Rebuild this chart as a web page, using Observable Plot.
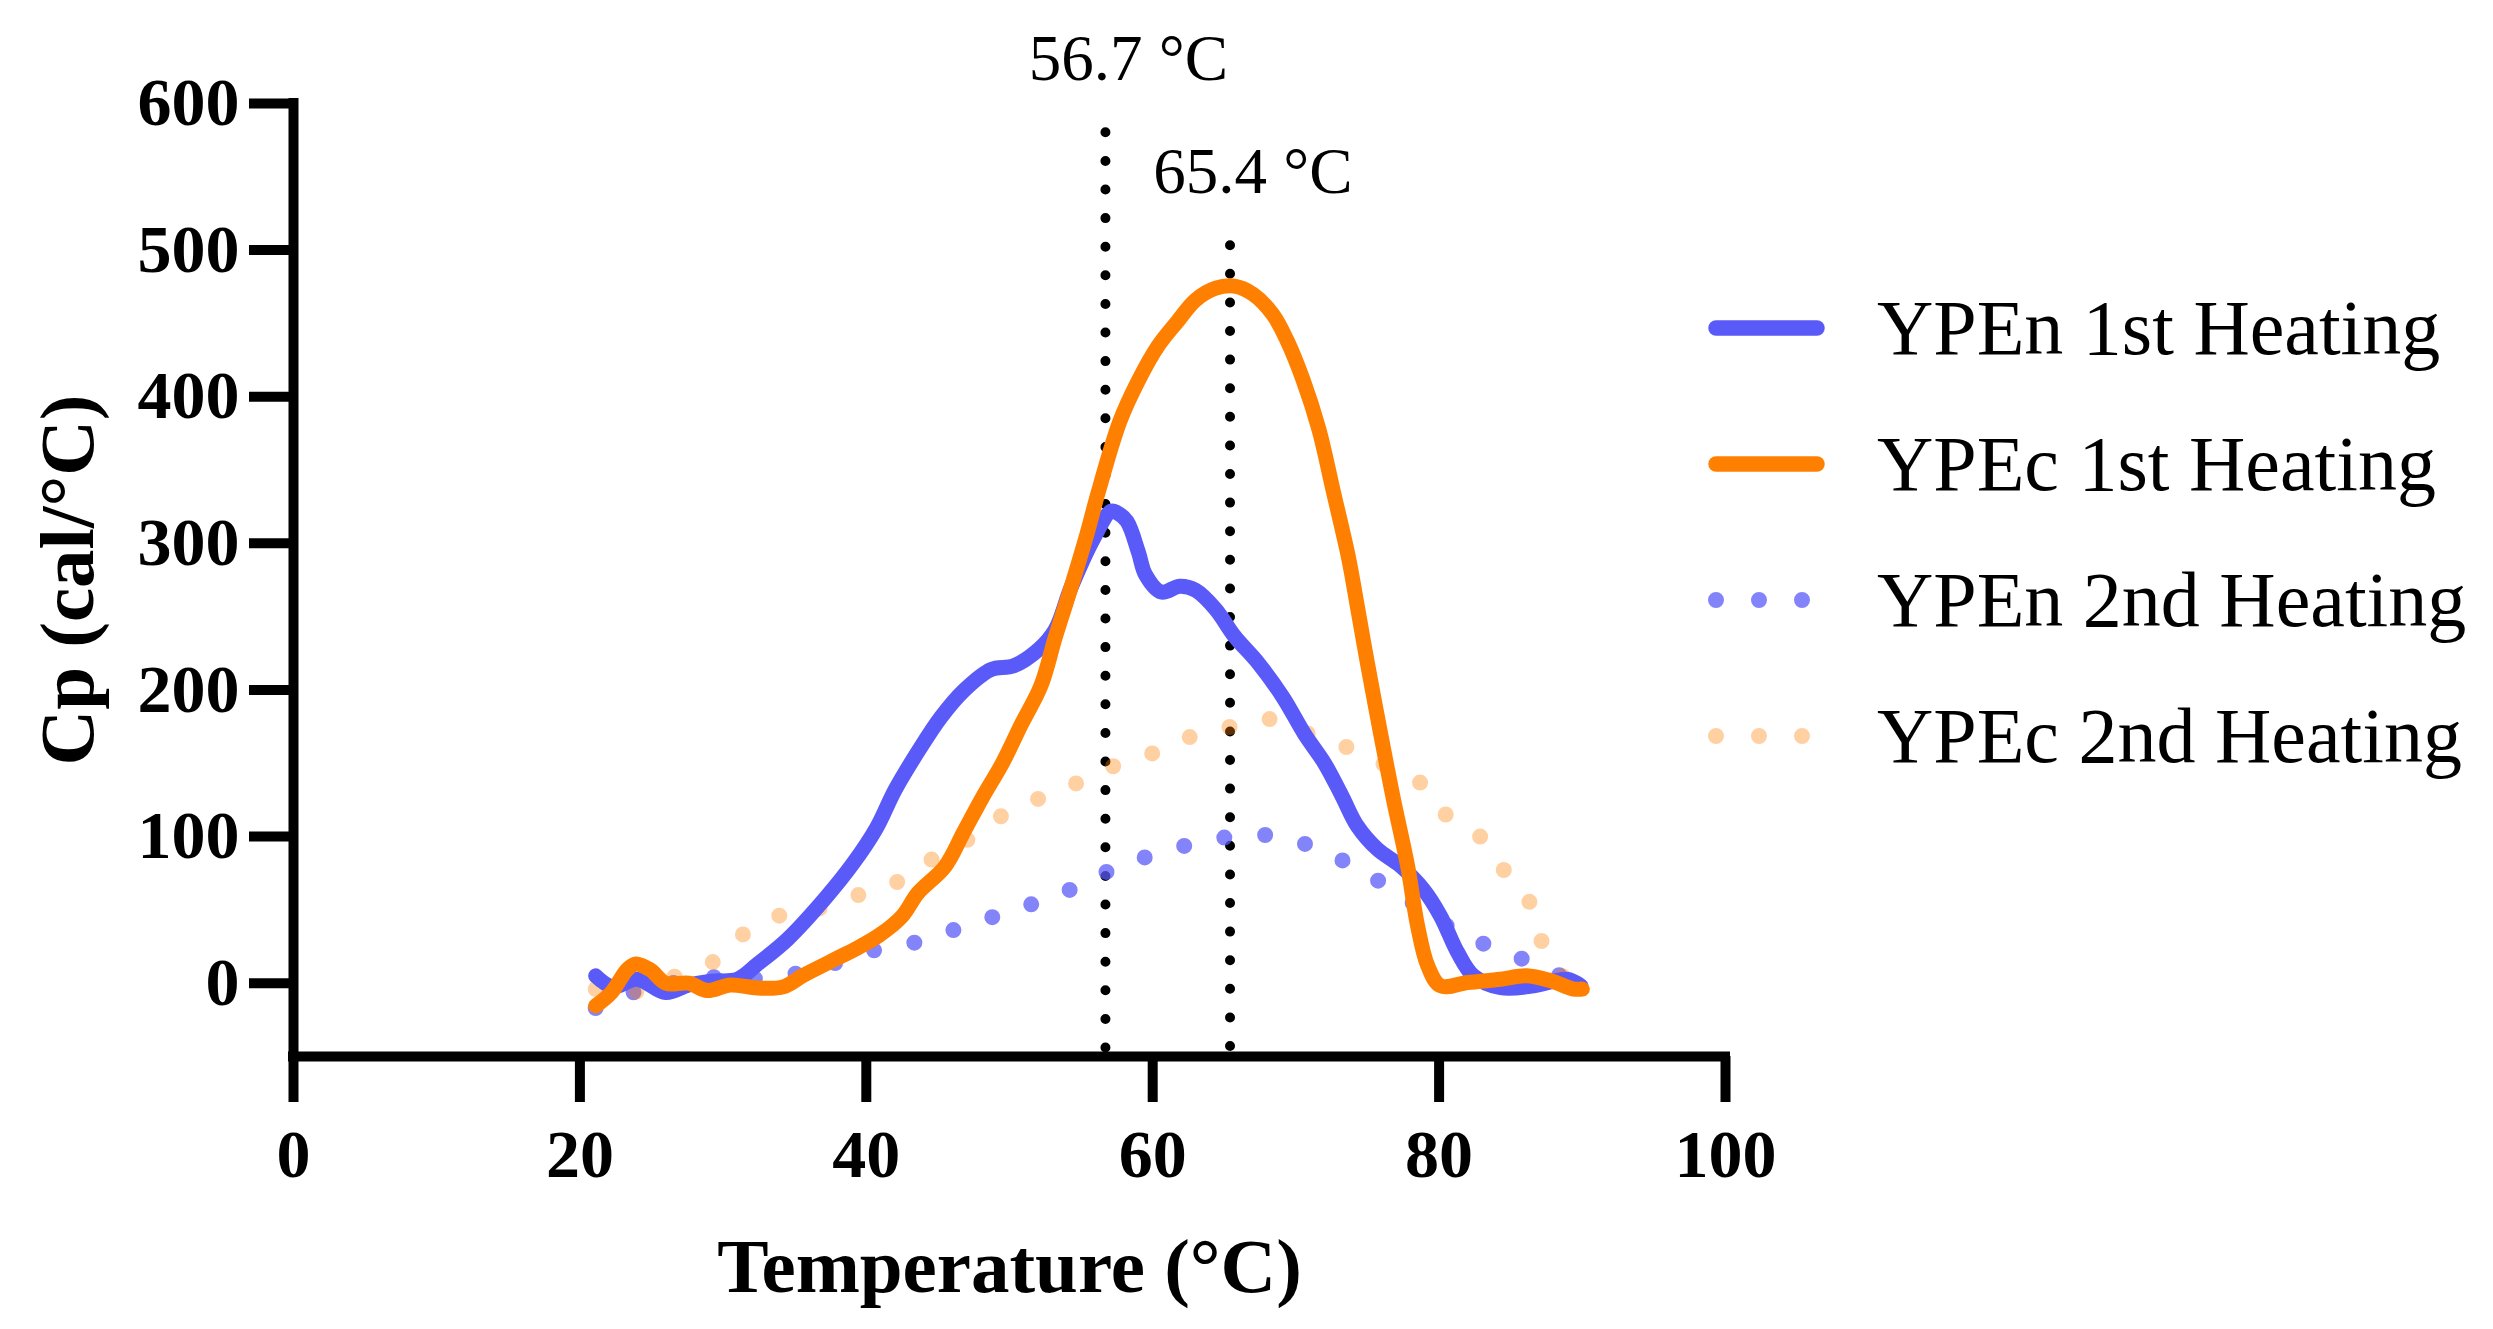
<!DOCTYPE html>
<html>
<head>
<meta charset="utf-8">
<script src="https://cdn.jsdelivr.net/npm/d3@7"></script>
<script src="https://cdn.jsdelivr.net/npm/@observablehq/plot@0.6"></script>
<style>
  html, body { margin: 0; padding: 0; background: #fff; overflow: hidden; }
  #wrap { position: relative; width: 2493px; height: 1329px; font-family: "Liberation Serif", "Times New Roman", serif; }
  #legend { position: absolute; left: 1708px; top: 260px; }
  .row { display: flex; align-items: center; height: 136px; }
  .row span { font-size: 78px; color: #000; white-space: nowrap; }
</style>
</head>
<body>
<div id="wrap">
  <div id="chart"></div>
  <div id="legend"></div>
</div>
<script>
// Ejes
const xDomain = [0, 100];
const yDomain = [-50, 600];
const xTicks = [0, 20, 40, 60, 80, 100];
const yTicks = [0, 100, 200, 300, 400, 500, 600];

// Temperaturas de transición (líneas punteadas verticales)
const tmValues = [56.7, 65.4];
const tmLabels = ["56.7 °C", "65.4 °C"];
const tmLineTop = [580, 503];

// YPEn 1st Heating
const ypen1T = [21.1, 22.3, 24.0, 26.0, 27.6, 29.2, 31.0, 32.4, 34.5, 37.2, 39.1, 40.7, 42.0, 43.6, 45.2, 46.8, 48.7, 50.3, 52.1, 53.2, 54.3, 55.9, 57.1, 57.5, 58.2, 59.0, 59.5, 60.6, 61.9, 63.0, 64.4, 65.7, 67.4, 69.1, 70.6, 72.0, 73.2, 74.3, 75.7, 77.3, 78.9, 80.1, 81.3, 82.4, 84.3, 86.6, 88.9, 89.9];
const ypen1Cp = [5, -2.5, 2.7, -6.4, -1.2, 1.4, 2.7, 13, 30, 58.7, 82, 105.7, 131.7, 157.8, 181.3, 199.5, 213.9, 216.5, 228.2, 241.2, 269.9, 303.8, 322, 321, 315, 294, 278.6, 266.8, 270.8, 268, 255, 236.8, 218, 195, 170, 150, 128, 107, 91.3, 80, 64, 45.8, 20.9, 5, -3, -1.8, 2.7, -1.8];

// YPEc 1st Heating
const ypec1T = [21.1, 22.2, 23.3, 23.9, 24.9, 26.0, 27.6, 28.9, 30.5, 32.4, 34.2, 35.6, 37.7, 39.3, 40.9, 42.5, 43.6, 45.5, 46.8, 48.1, 49.5, 50.8, 52.2, 53.2, 54.3, 55.4, 56.2, 57.7, 59.0, 60.4, 61.7, 63.0, 64.4, 65.7, 67.0, 68.4, 69.4, 70.5, 71.6, 72.6, 73.7, 74.2, 75.0, 75.9, 76.8, 77.8, 78.5, 79.2, 80.1, 82.0, 84.3, 86.1, 87.8, 89.4, 90.0];
const ypec1Cp = [-15.5, -6.4, 9.2, 13.1, 9.2, 0, 0, -5, -1.2, -3.3, -2.5, 5.3, 15.7, 23.6, 32.7, 45.7, 61.4, 79.6, 103, 126.5, 150, 176, 203, 236, 270, 306, 335, 383, 411, 435, 451, 466, 474, 475.4, 470, 456, 438, 411.5, 378, 336, 289, 262, 218, 171, 126, 80, 39, 12, -1.8, 0.5, 2.7, 5, 1.6, -4, -4];

// YPEn 2nd Heating
const ypen2T = [21.1, 23.8, 26.5, 29.1, 32.2, 35.1, 37.9, 40.5, 43.3, 46.2, 49.0, 51.8, 54.6, 57.2, 59.8, 62.8, 65.8, 68.7, 71.5, 74.2, 76.7, 79.2, 81.6, 84.4, 87.1, 89.6];
const ypen2Cp = [-17, -6, 0, 4, 3, 6.6, 14, 22.3, 27.5, 36.6, 45.7, 54.8, 65.3, 77.8, 86.9, 95, 100.3, 100.3, 91.7, 78.8, 64, 48.1, 32.9, 22.3, 11.1, 0];

// YPEc 2nd Heating
const ypec2T = [21.1, 23.8, 26.5, 29.2, 31.4, 34.0, 36.9, 39.6, 42.3, 44.8, 47.3, 49.7, 52.4, 55.0, 57.5, 60.3, 62.9, 65.8, 68.4, 71.0, 73.6, 75.9, 78.6, 80.5, 82.9, 84.6, 86.3, 87.2, 88.7];
const ypec2Cp = [-4, -5.9, 4, 13.9, 33.4, 46.3, 51.4, 60.6, 69.7, 85.8, 99.2, 115.6, 127.3, 137.7, 149, 157.9, 169, 175.6, 180, 169.6, 160.8, 150.5, 137.4, 114.7, 99.7, 76.1, 55.6, 27.7, 3.8];

const blue = "#5A5AF8";
const orange = "#FF8000";

// Series (orden de la leyenda)
const series = [
  {name: "YPEn 1st Heating", t: ypen1T, cp: ypen1Cp, color: blue, opacity: 1, dotted: false},
  {name: "YPEc 1st Heating", t: ypec1T, cp: ypec1Cp, color: orange, opacity: 1, dotted: false},
  {name: "YPEn 2nd Heating", t: ypen2T, cp: ypen2Cp, color: blue, opacity: 0.75, dotted: true},
  {name: "YPEc 2nd Heating", t: ypec2T, cp: ypec2Cp, color: orange, opacity: 0.37, dotted: true}
];

const toRows = s => s.t.map((t, i) => ({t, cp: s.cp[i]}));
const tmTable = tmValues.map((t, i) => ({t, top: tmLineTop[i], label: tmLabels[i]}));

function lineMark(s) {
  return Plot.line(toRows(s), {
    x: "t", y: "cp",
    curve: "catmull-rom",
    stroke: s.color,
    strokeOpacity: s.opacity,
    strokeWidth: s.dotted ? 16 : 15,
    strokeLinecap: "round",
    strokeLinejoin: "round",
    strokeDasharray: s.dotted ? "0,41" : null
  });
}

const font = "'Liberation Serif', 'Times New Roman', serif";

let chart = Plot.plot({
  width: 2493,
  height: 1329,
  marginLeft: 293,
  marginRight: 768,
  marginTop: 103,
  marginBottom: 273,
  style: {fontFamily: font, background: "white", overflow: "visible"},
  x: {domain: xDomain},
  y: {domain: yDomain},
  marks: [
    // líneas de Tm
    Plot.ruleX(tmTable, {
      x: "t", y1: "top", y2: () => yDomain[0],
      stroke: "black", strokeWidth: 10,
      strokeDasharray: "0,28.6", strokeLinecap: "round"
    }),
    lineMark(series[2]),
    lineMark(series[3]),
    lineMark(series[0]),
    lineMark(series[1]),
    Plot.text(tmTable, {
      x: "t", y: "top", text: "label",
      dx: 23, dy: -53, lineAnchor: "bottom",
      fontSize: 65, fill: "black"
    }),
    // ejes
    Plot.axisY({
      ticks: yTicks, tickSize: 44, tickPadding: 10, strokeWidth: 10,
      fontSize: 68, fontWeight: "bold", label: null, tickFormat: d => d
    }),
    Plot.axisX({
      ticks: xTicks, tickSize: 46, tickPadding: 26, strokeWidth: 10,
      fontSize: 68, fontWeight: "bold", label: null, tickFormat: d => d
    }),
    Plot.ruleX([xDomain[0]], {strokeWidth: 10, strokeLinecap: "square"}),
    Plot.ruleY([yDomain[0]], {strokeWidth: 10, strokeLinecap: "square"}),
    Plot.text(["Temperature (°C)"], {
      frameAnchor: "bottom", dy: 235, lineAnchor: "bottom",
      fontSize: 77, fontWeight: "bold", fill: "black"
    }),
    Plot.text(["Cp (cal/°C)"], {
      frameAnchor: "left", dx: -225, rotate: -90,
      textAnchor: "middle", lineAnchor: "middle",
      fontSize: 77, fontWeight: "bold", fill: "black"
    })
  ]
});

d3.select('#chart').append(() => chart);

// Leyenda
const legend = d3.select('#legend');
series.forEach(s => {
  const row = legend.append('div').attr('class', 'row');
  const sw = row.append('svg').attr('width', 169).attr('height', 30);
  sw.append('line')
    .attr('x1', 8).attr('x2', s.dotted ? 95 : 109)
    .attr('y1', 15).attr('y2', 15)
    .attr('stroke', s.color)
    .attr('stroke-opacity', s.opacity)
    .attr('stroke-width', s.dotted ? 16 : 15.5)
    .attr('stroke-linecap', 'round')
    .attr('stroke-dasharray', s.dotted ? '0,43' : null);
  row.append('span').text(s.name);
});
</script>
</body>
</html>
